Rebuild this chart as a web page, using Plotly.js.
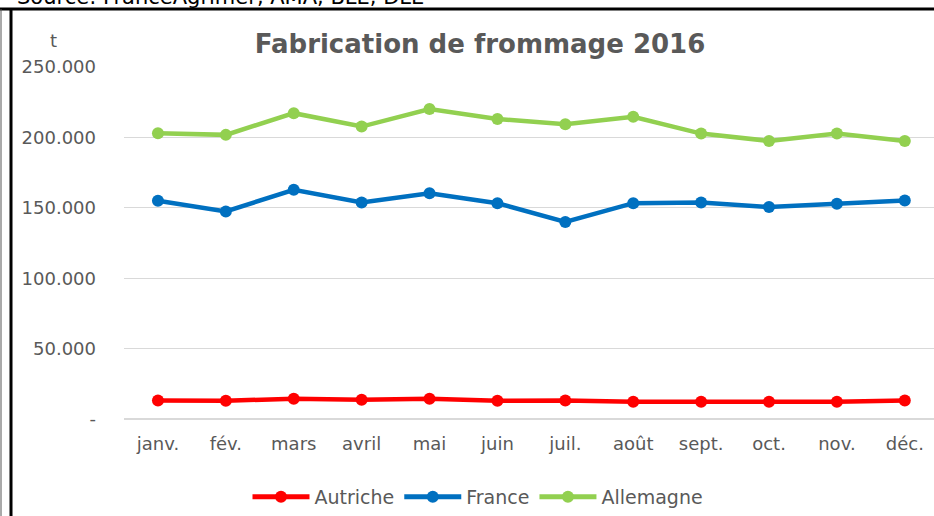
<!DOCTYPE html>
<html>
<head>
<meta charset="utf-8">
<script src="https://cdn.plot.ly/plotly-3.0.1.min.js"></script>
<style>html,body{margin:0;padding:0;background:#fff;}#chart{width:934px;height:516px;}</style>
</head>
<body>
<div id="chart"></div>
<script>
const months = ["janv.", "fév.", "mars", "avril", "mai", "juin", "juil.", "août", "sept.", "oct.", "nov.", "déc."];
const autriche = [13200, 13000, 14400, 13700, 14400, 13000, 13200, 12300, 12300, 12300, 12300, 13200];
const france = [155000, 147400, 162800, 153800, 160400, 153300, 139900, 153300, 153800, 150500, 152800, 155200];
const allemagne = [203000, 201800, 217200, 207700, 220200, 213100, 209400, 214700, 202700, 197500, 202700, 197500];
const yTickVals = [0, 50000, 100000, 150000, 200000, 250000];
const yTickText = ["-", "50.000", "100.000", "150.000", "200.000", "250.000"];
const seriesNames = ["Autriche", "France", "Allemagne"];
const seriesColors = ["#FF0000", "#0070C0", "#92D050"];

const FONT = "DejaVu Sans, Verdana, sans-serif";
const GRAY = "#595959";
const idx = months.map((m, i) => i);
const allSeries = [autriche, france, allemagne];

const traces = allSeries.map((vals, k) => ({
  type: "scatter",
  mode: "lines+markers",
  name: seriesNames[k],
  x: idx,
  y: vals,
  line: {color: seriesColors[k], width: 4.5},
  marker: {color: seriesColors[k], size: 12}
}));

// plot area in px: x 124..934, y 67..419
const L = 124, R = 934, T = 67, B = 419;
const px = p => (p - L) / (R - L);
const py = p => (B - p) / (B - T);

const layout = {
  width: 934, height: 516,
  margin: {l: L, r: 934 - R, t: T, b: 516 - B},
  paper_bgcolor: "#ffffff",
  plot_bgcolor: "#ffffff",
  font: {family: FONT, color: GRAY, size: 18},
  title: {
    text: "Fabrication de frommage 2016",
    font: {family: FONT, size: 26, color: GRAY, weight: "bold"},
    x: 480 / 934, xanchor: "center", xref: "container",
    y: 1 - 44 / 516, yanchor: "middle", yref: "container"
  },
  showlegend: true,
  legend: {
    orientation: "h",
    x: 478 / 934, xanchor: "center", xref: "container",
    y: 1 - 497 / 516, yanchor: "middle", yref: "container",
    font: {family: FONT, size: 19, color: GRAY},
    itemwidth: 57,
    itemsizing: "constant"
  },
  xaxis: {
    range: [-0.5, 11.43],
    tickvals: idx,
    ticktext: months,
    showgrid: false,
    zeroline: false,
    showline: false,
    ticks: "",
    ticklabelstandoff: 12,
    tickfont: {family: FONT, size: 18, color: GRAY},
    fixedrange: true
  },
  yaxis: {
    range: [0, 250000],
    tickvals: yTickVals,
    ticktext: yTickText,
    showgrid: true,
    gridcolor: "#d9d9d9",
    gridwidth: 1.3,
    zeroline: true,
    zerolinecolor: "#d9d9d9",
    zerolinewidth: 1.3,
    showline: false,
    ticks: "",
    ticklabelstandoff: 27,
    tickfont: {family: FONT, size: 18, color: GRAY},
    fixedrange: true
  },
  annotations: [
    {text: "t", xref: "paper", yref: "paper", x: px(53), y: py(40), xanchor: "center", yanchor: "middle",
     showarrow: false, font: {family: FONT, size: 18, color: GRAY}},
    {text: "Source: FranceAgrimer, AMA, BLE, DLE", xref: "paper", yref: "paper", x: px(15), y: py(-3),
     xanchor: "left", yanchor: "middle", showarrow: false, font: {family: FONT, size: 21, color: "#000000"}}
  ],
  shapes: [
    {type: "line", xref: "paper", yref: "paper", x0: px(0), x1: px(934), y0: py(9), y1: py(9),
     line: {color: "#000000", width: 3}},
    {type: "line", xref: "paper", yref: "paper", x0: px(11), x1: px(11), y0: py(8), y1: py(516),
     line: {color: "#000000", width: 3}},
    {type: "line", xref: "paper", yref: "paper", x0: px(1), x1: px(1), y0: py(9), y1: py(516),
     line: {color: "#555555", width: 1}}
  ]
};

Plotly.newPlot("chart", traces, layout, {displayModeBar: false, staticPlot: true});
</script>
</body>
</html>
